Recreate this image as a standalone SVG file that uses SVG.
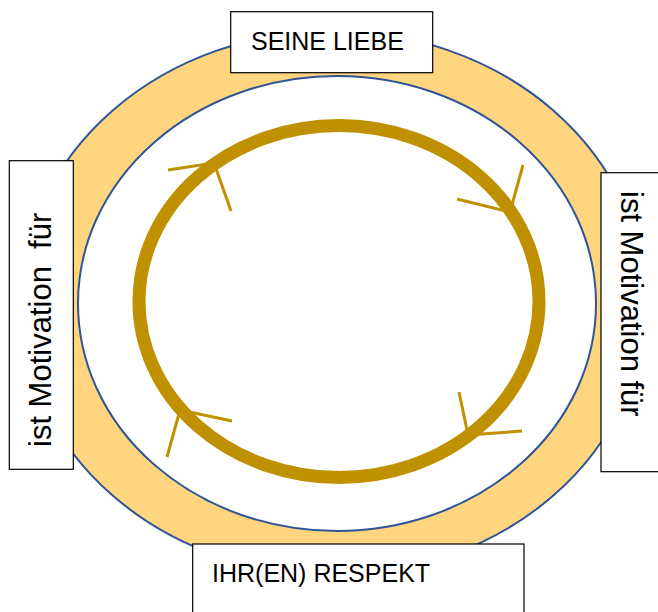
<svg xmlns="http://www.w3.org/2000/svg" width="658" height="612" viewBox="0 0 658 612">
<style>
.band{stroke:#2F5597;stroke-width:2}
.ring{fill:none;stroke:#BF9000;stroke-width:13}
.barb{stroke:#BF9000;stroke-width:3;stroke-linecap:butt}
.box{fill:#FFFFFF;stroke:#000000;stroke-width:1.2}
.lbl{font-family:"Liberation Sans",Arial,sans-serif;fill:#000000}
.h{font-size:25px}
.v{font-size:31px}
</style>
<rect width="658" height="612" fill="#FFFFFF"/>
<g id="background">
<ellipse class="band" cx="333" cy="303" rx="312" ry="272" fill="#FFD57F"/>
<ellipse class="band" cx="337" cy="303.5" rx="259" ry="227.5" fill="#FFFFFF"/>
</g>
<g id="connectors">
<ellipse class="ring" cx="339" cy="301.5" rx="200" ry="176"/>
<line class="barb" x1="214" y1="163" x2="168" y2="170"/>
<line class="barb" x1="214" y1="163" x2="231" y2="211"/>
<line class="barb" x1="510" y1="212" x2="457" y2="199"/>
<line class="barb" x1="510" y1="212" x2="523" y2="165"/>
<line class="barb" x1="468" y1="435" x2="459" y2="392"/>
<line class="barb" x1="468" y1="435" x2="522" y2="431"/>
<line class="barb" x1="180" y1="410" x2="232" y2="421"/>
<line class="barb" x1="180" y1="410" x2="167" y2="457"/>
</g>
<g id="node-seine-liebe">
<rect class="box" x="230.7" y="11.7" width="202" height="61"/>
<text class="lbl h" x="251" y="50">SEINE LIEBE</text>
</g>
<g id="node-ihr-respekt">
<rect class="box" x="192.7" y="544" width="331.3" height="80"/>
<text class="lbl h" x="212" y="582">IHR(EN) RESPEKT</text>
</g>
<g id="node-motivation-left">
<rect class="box" x="9.3" y="160.7" width="64" height="308.6"/>
<text class="lbl v" transform="translate(51,447) rotate(-90)" xml:space="preserve">ist Motivation  für</text>
</g>
<g id="node-motivation-right">
<rect class="box" x="601" y="172.7" width="70" height="299"/>
<text class="lbl v" transform="translate(621,191) rotate(90)">ist Motivation für</text>
</g>
</svg>
